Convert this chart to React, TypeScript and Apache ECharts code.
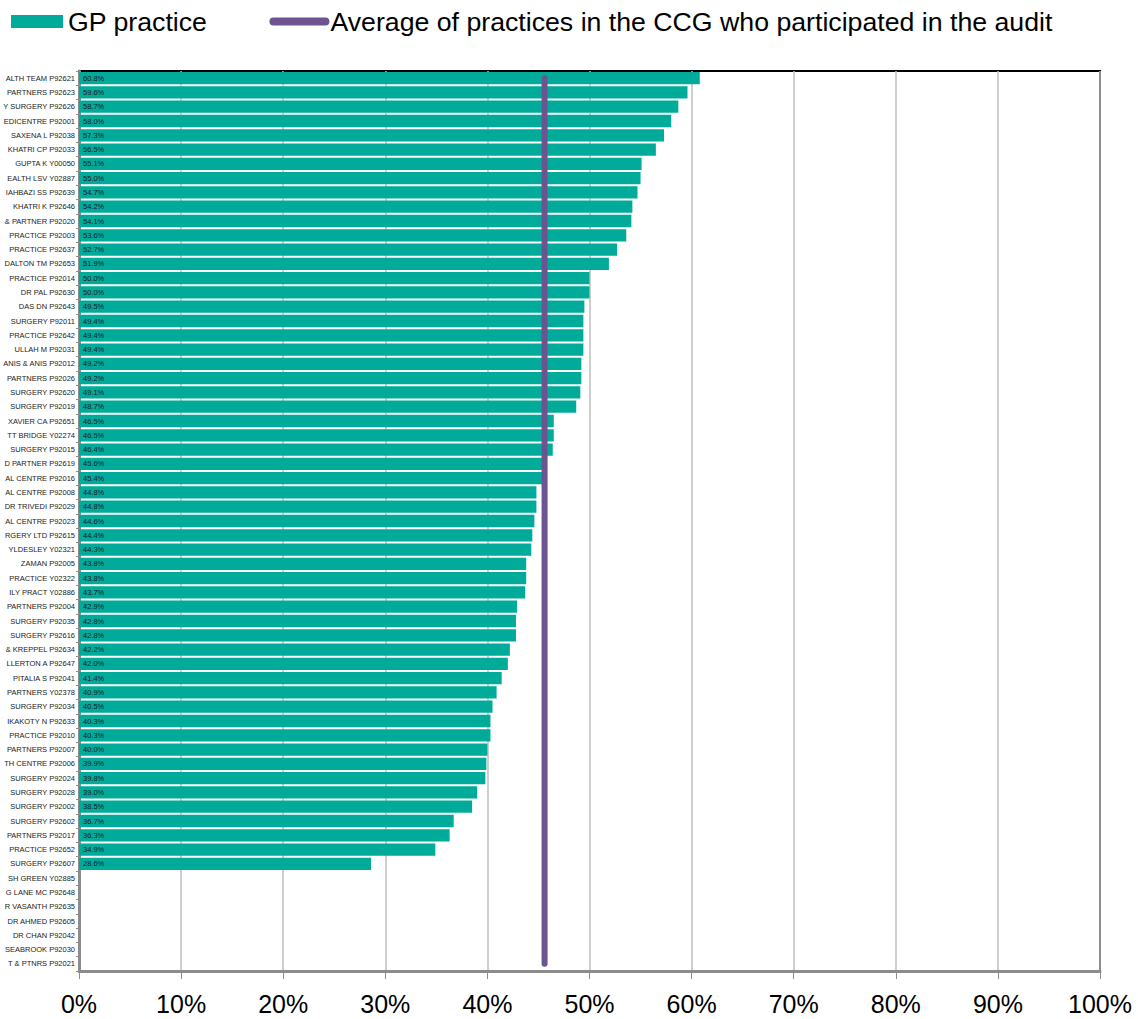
import React, { useEffect, useRef } from "react";
import * as echarts from "echarts";

const practices: string[] = [
  "ALTH TEAM P92621", "PARTNERS P92623", "Y SURGERY P92626", "EDICENTRE P92001", "SAXENA L P92038",
  "KHATRI CP P92033", "GUPTA K Y00050", "EALTH LSV Y02887", "IAHBAZI SS P92639", "KHATRI K P92646",
  "& PARTNER P92020", "PRACTICE P92003", "PRACTICE P92637", "DALTON TM P92653", "PRACTICE P92014",
  "DR PAL P92630", "DAS DN P92643", "SURGERY P92011", "PRACTICE P92642", "ULLAH M P92031",
  "ANIS & ANIS P92012", "PARTNERS P92026", "SURGERY P92620", "SURGERY P92019", "XAVIER CA P92651",
  "TT BRIDGE Y02274", "SURGERY P92015", "D PARTNER P92619", "AL CENTRE P92016", "AL CENTRE P92008",
  "DR TRIVEDI P92029", "AL CENTRE P92023", "RGERY LTD P92615", "YLDESLEY Y02321", "ZAMAN P92005",
  "PRACTICE Y02322", "ILY PRACT Y02886", "PARTNERS P92004", "SURGERY P92035", "SURGERY P92616",
  "& KREPPEL P92634", "LLERTON A P92647", "PITALIA S P92041", "PARTNERS Y02378", "SURGERY P92034",
  "IKAKOTY N P92633", "PRACTICE P92010", "PARTNERS P92007", "TH CENTRE P92006", "SURGERY P92024",
  "SURGERY P92028", "SURGERY P92002", "SURGERY P92602", "PARTNERS P92017", "PRACTICE P92652",
  "SURGERY P92607", "SH GREEN Y02885", "G LANE MC P92648", "R VASANTH P92635", "DR AHMED P92605",
  "DR CHAN P92042", "SEABROOK P92030", "T & PTNRS P92021",
];

const practiceValues: (number | null)[] = [
  60.8, 59.6, 58.7, 58.0, 57.3, 56.5, 55.1, 55.0, 54.7, 54.2,
  54.1, 53.6, 52.7, 51.9, 50.0, 50.0, 49.5, 49.4, 49.4, 49.4,
  49.2, 49.2, 49.1, 48.7, 46.5, 46.5, 46.4, 45.6, 45.4, 44.8,
  44.8, 44.6, 44.4, 44.3, 43.8, 43.8, 43.7, 42.9, 42.8, 42.8,
  42.2, 42.0, 41.4, 40.9, 40.5, 40.3, 40.3, 40.0, 39.9, 39.8,
  39.0, 38.5, 36.7, 36.3, 34.9, 28.6, null, null, null, null,
  null, null, null,
];

const ccgAverage = 45.6;
const xTicks = [0, 10, 20, 30, 40, 50, 60, 70, 80, 90, 100];

const SERIES_BAR = "GP practice";
const SERIES_AVG = "Average of practices in the CCG who participated in the audit";

export default function App() {
  const ref = useRef<HTMLDivElement>(null);
  useEffect(() => {
    document.body.style.margin = "0";
    if (!ref.current) return;
    const chart = echarts.init(ref.current, undefined, { renderer: "svg" });
    const font = "'Liberation Sans', Arial, sans-serif";
    chart.setOption({
      animation: false,
      textStyle: { fontFamily: font },
      legend: {
        left: 11,
        top: 8,
        padding: 0,
        itemWidth: 52,
        itemHeight: 13,
        itemGap: 62,
        textStyle: { fontSize: 26.7, color: "#000", fontFamily: font },
        data: [
          { name: SERIES_BAR, icon: "rect" },
          {
            name: SERIES_AVG,
            itemStyle: { opacity: 0 },
            lineStyle: { width: 8, cap: "round", color: "#6b5490" },
          },
        ],
      },
      grid: {
        left: 79,
        right: 38,
        top: 71,
        bottom: 48,
        show: true,
        borderColor: "#000",
        borderWidth: 2,
        containLabel: false,
        outerBoundsMode: "none",
      },
      xAxis: {
        type: "value",
        min: xTicks[0],
        max: xTicks[xTicks.length - 1],
        interval: 10,
        axisLine: { show: true, lineStyle: { color: "#8c8c8c", width: 3 } },
        axisTick: { show: true, length: 8, lineStyle: { color: "#8c8c8c", width: 1 } },
        splitLine: { show: true, lineStyle: { color: "#bfbfbf", width: 1.5 } },
        axisLabel: {
          formatter: "{value}%",
          fontSize: 25,
          color: "#000",
          margin: 20,
          fontFamily: font,
        },
      },
      yAxis: {
        type: "category",
        inverse: true,
        data: practices,
        axisLine: { show: true, lineStyle: { color: "#8c8c8c", width: 3 } },
        axisTick: { show: true, length: 3, lineStyle: { color: "#8c8c8c" } },
        axisLabel: { fontSize: 7.5, color: "#222", margin: 4, fontFamily: font, interval: 0 },
        splitLine: { show: false },
      },
      series: [
        {
          name: SERIES_BAR,
          type: "bar",
          data: practiceValues,
          barCategoryGap: "14%",
          itemStyle: { color: "#00ab99" },
          label: {
            show: true,
            position: "insideLeft",
            distance: 4,
            fontSize: 7.5,
            color: "#1a1a1a",
            fontFamily: font,
            formatter: (p: any) => (p.value == null ? "" : Number(p.value).toFixed(1) + "%"),
          },
          z: 2,
        },
        {
          name: SERIES_AVG,
          type: "line",
          data: practices.map((c) => [ccgAverage, c]),
          symbol: "none",
          lineStyle: { color: "#6b5490", width: 6, cap: "round" },
          itemStyle: { color: "#6b5490" },
          z: 5,
        },
      ],
    });
    return () => chart.dispose();
  }, []);
  return <div ref={ref} style={{ width: 1138, height: 1019 }} />;
}
